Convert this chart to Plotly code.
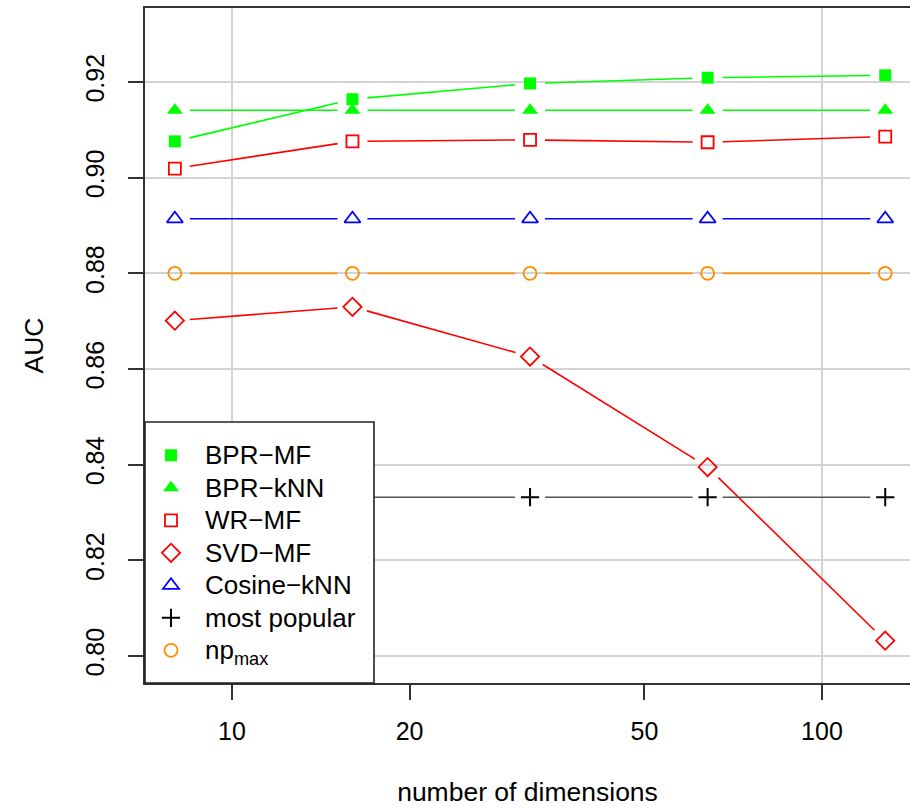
import numpy as np
import plotly.graph_objects as go

# ---------------- data ----------------
dims = [8, 16, 32, 64, 128]
bpr_mf = [0.9076, 0.9164, 0.9197, 0.9209, 0.9214]
bpr_knn = [0.9141, 0.9141, 0.9141, 0.9141, 0.9141]
wr_mf = [0.9019, 0.9076, 0.9079, 0.9074, 0.9086]
svd_mf = [0.8701, 0.8730, 0.8626, 0.8395, 0.8032]
cosine_knn = [0.8914, 0.8914, 0.8914, 0.8914, 0.8914]
most_popular = [0.8332, 0.8332, 0.8332, 0.8332, 0.8332]
np_max = [0.8800, 0.8800, 0.8800, 0.8800, 0.8800]

x_ticks = [10, 20, 50, 100]
y_ticks = [0.80, 0.82, 0.84, 0.86, 0.88, 0.90, 0.92]

# ---------------- layout geometry ----------------
FIG_W, FIG_H = 910, 808
ML, MR, MT, MB = 145, 0, 8, 125
PW, PH = FIG_W - ML - MR, FIG_H - MT - MB
XR = (0.8525, 2.1492)      # log10 range
YR = (0.79436, 0.93547)
FONT = "Liberation Sans, Arial, Helvetica, sans-serif"


def gapped(xs, ys, gap=15.0):
    """R type='b' style: line segments that stop short of each point."""
    lx = np.log10(np.array(xs, float))
    ya = np.array(ys, float)
    px = (lx - XR[0]) / (XR[1] - XR[0]) * PW
    py = (YR[1] - ya) / (YR[1] - YR[0]) * PH
    ox, oy = [], []
    for i in range(len(xs) - 1):
        dx, dy = px[i + 1] - px[i], py[i + 1] - py[i]
        d = np.hypot(dx, dy)
        if d <= 2 * gap:
            continue
        fx, fy = dx / d * gap, dy / d * gap
        for qx, qy in ((px[i] + fx, py[i] + fy), (px[i + 1] - fx, py[i + 1] - fy)):
            ox.append(10 ** (XR[0] + qx / PW * (XR[1] - XR[0])))
            oy.append(YR[1] - qy / PH * (YR[1] - YR[0]))
        ox.append(None)
        oy.append(None)
    return ox, oy


def lg(t):
    return '<span style="font-size:26px">%s</span>' % t


series = [
    ("BPR\u2212MF", bpr_mf, "#00FF00", dict(symbol="square", size=12, color="#00FF00", line=dict(width=0))),
    ("BPR\u2212kNN", bpr_knn, "#00FF00", dict(symbol="triangle-up", size=14, color="#00FF00", line=dict(width=0))),
    ("WR\u2212MF", wr_mf, "#FF0000", dict(symbol="square-open", size=12, color="#FF0000", line=dict(width=1.8))),
    ("SVD\u2212MF", svd_mf, "#FF0000", dict(symbol="diamond-open", size=14, color="#FF0000", line=dict(width=1.8))),
    ("Cosine\u2212kNN", cosine_knn, "#0000FF", dict(symbol="triangle-up-open", size=14, color="#0000FF", line=dict(width=1.8))),
    ("most popular", most_popular, "#555555", dict(symbol="cross-thin", size=13, color="#000000", line=dict(width=2, color="#000000"))),
    ("np<sub>max</sub>", np_max, "#FF8C00", dict(symbol="circle-open", size=13, color="#FF8C00", line=dict(width=1.8))),
]

fig = go.Figure()
for i, (name, vals, col, mk) in enumerate(series):
    gx, gy = gapped(dims, vals)
    fig.add_trace(go.Scatter(x=gx, y=gy, mode="lines", line=dict(color=col, width=1.6),
                             showlegend=False, hoverinfo="skip"))
    fig.add_trace(go.Scatter(x=dims, y=vals, mode="markers", marker=mk, name=lg(name),
                             legendgroup="g%d" % i))

axis_common = dict(
    showline=True, linecolor="#333333", linewidth=2,
    ticks="outside", ticklen=15, tickwidth=1.5, tickcolor="#333333",
    tickfont=dict(family=FONT, size=25, color="#000000"),
    zeroline=False,
)

fig.update_xaxes(
    type="log", range=list(XR), mirror=True,
    tickvals=x_ticks, ticktext=[str(v) for v in x_ticks],
    showgrid=False,
    minor=dict(tickvals=[10, 100], showgrid=True, gridcolor="#D3D3D3", gridwidth=1.6, ticks=""),
    ticklabelstandoff=10,
    title=dict(text="number of dimensions", font=dict(family=FONT, size=26.5, color="#000000"), standoff=38),
    **axis_common,
)
fig.update_yaxes(
    range=list(YR), mirror=False,
    tickvals=y_ticks, ticktext=["%.2f" % v for v in y_ticks], tickangle=-90,
    showgrid=True, gridcolor="#D3D3D3", gridwidth=1.6,
    ticklabelstandoff=14,
    title=dict(text="AUC", font=dict(family=FONT, size=26.5, color="#000000"), standoff=30),
    **axis_common,
)

# legend box (drawn above traces, hides what lies behind it)
fig.add_shape(type="rect", xref="paper", yref="paper",
              x0=0, y0=0, x1=(374 - ML) / PW, y1=(683 - 422) / PH,
              fillcolor="white", line=dict(color="#222222", width=1.6), layer="above")

fig.update_layout(
    width=FIG_W, height=FIG_H,
    margin=dict(l=ML, r=MR, t=MT, b=MB, autoexpand=False),
    paper_bgcolor="white", plot_bgcolor="white",
    font=dict(family=FONT, color="#000000"),
    legend=dict(
        x=-8.0 / PW, y=(683 - 434) / PH, xanchor="left", yanchor="top",
        bgcolor="rgba(0,0,0,0)", borderwidth=0,
        font=dict(family=FONT, size=22.7, color="#000000"),
        itemwidth=58, tracegroupgap=0, traceorder="normal",
    ),
)

fig.write_html("out.html")
